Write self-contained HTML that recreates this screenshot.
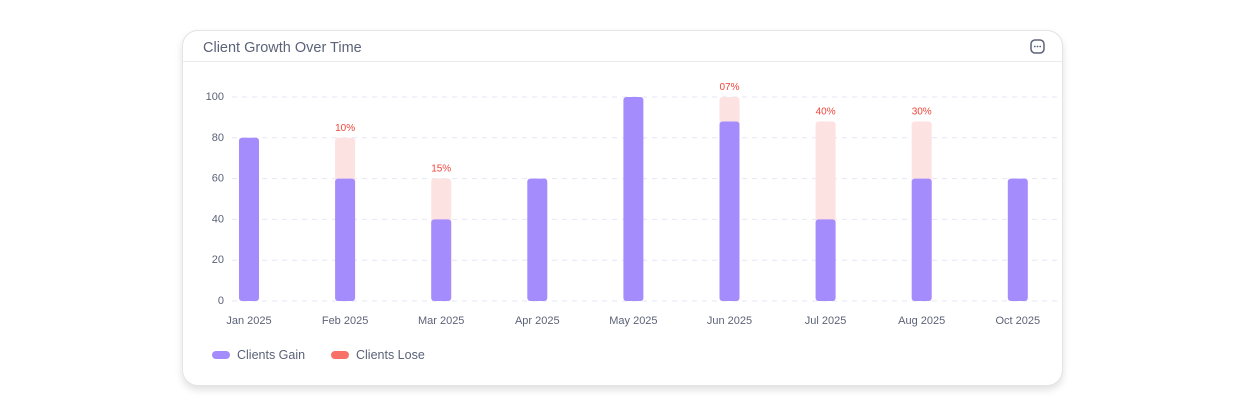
<!DOCTYPE html>
<html><head><meta charset="utf-8"><style>
body{margin:0;width:1245px;height:409px;background:#fff;font-family:"Liberation Sans",sans-serif;overflow:hidden;position:relative}
.card{position:absolute;left:182px;top:30px;width:879px;height:354px;border:1px solid #e4e4e7;border-radius:16px;background:#fff;box-shadow:0 4px 8px rgba(0,0,0,0.12)}
.hdr{position:absolute;left:0;top:0;right:0;height:30px;border-bottom:1px solid #ececf0}
.title{position:absolute;left:20px;top:9px;font-size:14.5px;color:#5b6378}
.menu{position:absolute;left:847px;top:8px;width:15px;height:15px}
</style></head><body>
<div class="card">
<div class="hdr">
<div class="title">Client Growth Over Time</div>
<svg class="menu" viewBox="0 0 15 15"><rect x="1" y="1" width="13" height="13" rx="4" fill="none" stroke="#5b6378" stroke-width="1.5"/><circle cx="4.8" cy="7.5" r="0.9" fill="#5b6378"/><circle cx="7.5" cy="7.5" r="0.9" fill="#5b6378"/><circle cx="10.2" cy="7.5" r="0.9" fill="#5b6378"/></svg>
</div></div>
<svg id="c" width="1245" height="409" style="position:absolute;left:0;top:0"></svg>
<script>
const categories=["Jan 2025","Feb 2025","Mar 2025","Apr 2025","May 2025","Jun 2025","Jul 2025","Aug 2025","Oct 2025"];
const gain=[80,60,40,60,100,88,40,60,60];
const lose=[0,20,20,0,0,12,48,28,0];
const loseLabels=["","10%","15%","","","07%","40%","30%",""];
const yTicks=[0,20,40,60,80,100];
const svg=document.getElementById('c');
const NS='http://www.w3.org/2000/svg';
const y=v=>301-v*2.04;
const x=i=>249+i*96.1;
function mk(t,a){const e=document.createElementNS(NS,t);for(const k in a)e.setAttribute(k,a[k]);svg.appendChild(e);return e;}
yTicks.forEach(v=>{
 const l=mk('line',{x1:232,x2:1058,y1:y(v),y2:y(v),stroke:'#e6e6f7','stroke-dasharray':'5 5'});
 
 
 const t=mk('text',{x:224,y:y(v)+3,'text-anchor':'end','font-size':11,fill:'#5b6378'});
 t.textContent=v;
 
 
});
categories.forEach((c,i)=>{
 if(lose[i]>0){
  const r=mk('rect',{x:x(i)-10,y:y(gain[i]+lose[i]),width:20,height:y(0)-y(gain[i]+lose[i]),rx:3,fill:'#fde2e2'});
  
  
  const t=mk('text',{x:x(i),y:y(gain[i]+lose[i])-7,'text-anchor':'middle','font-size':10,fill:'#f04438'});
  t.textContent=loseLabels[i];
  
  
 }
 const b=mk('rect',{x:x(i)-10,y:y(gain[i]),width:20,height:y(0)-y(gain[i]),rx:3,fill:'#a48cfd'});
 
 
 const t=mk('text',{x:x(i),y:324,'text-anchor':'middle','font-size':11,fill:'#5b6378'});
 t.textContent=c;
 
 
});
[[212,'#a48cfd','Clients Gain'],[331,'#f87168','Clients Lose']].forEach(([lx,col,txt])=>{
 const r=mk('rect',{x:lx,y:351,width:18,height:8,rx:4,fill:col});
 
 
 const t=mk('text',{x:lx+25,y:359,'font-size':12.5,fill:'#5b6378'});
 t.textContent=txt;
 
 
});
</script>
</body></html>
